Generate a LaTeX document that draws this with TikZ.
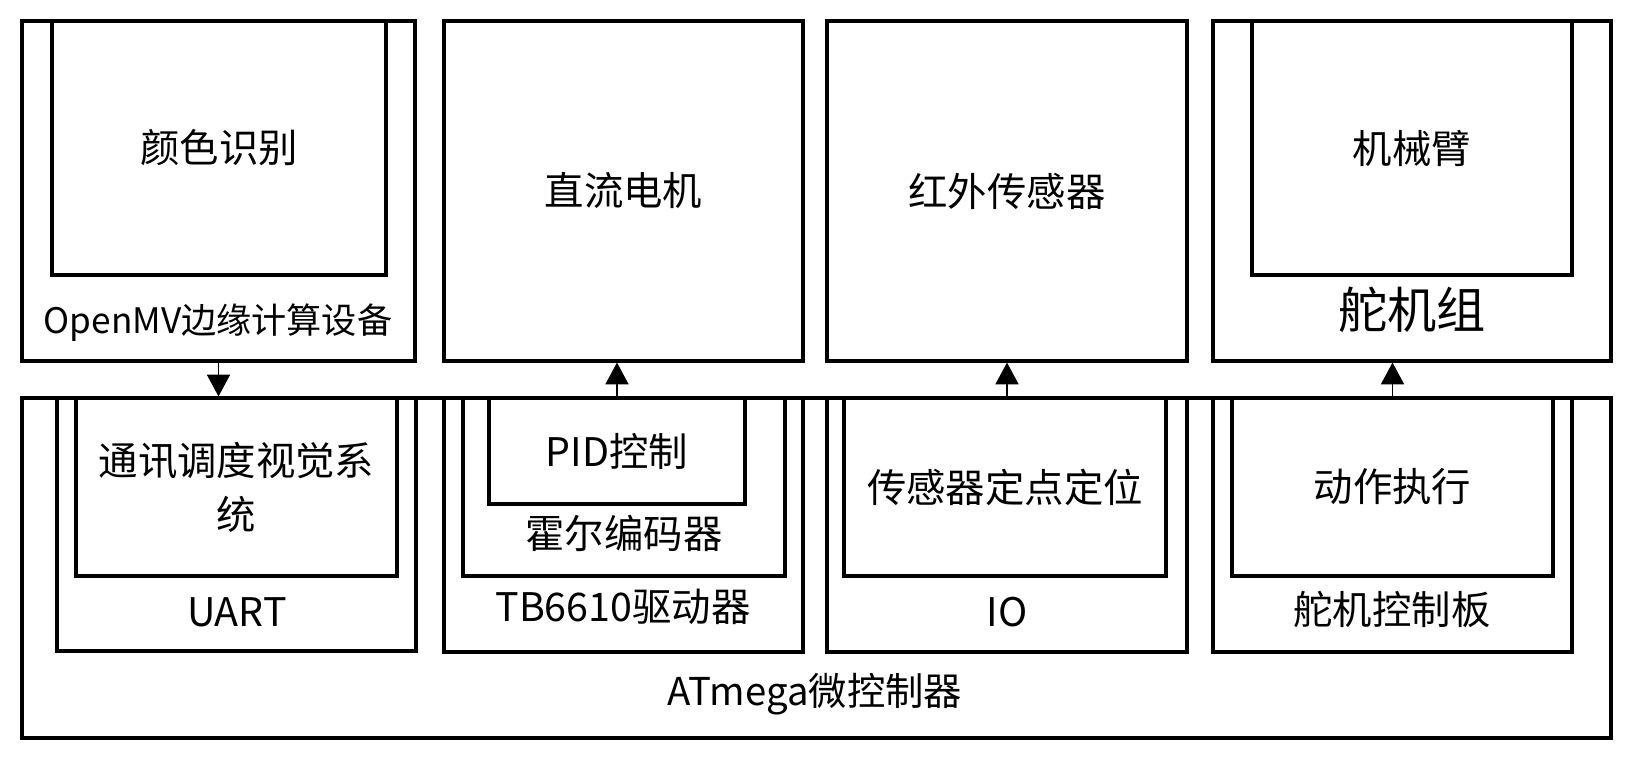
\documentclass[tikz,border=0pt]{standalone}
\usepackage{fontspec}
\setmainfont{Noto Sans CJK SC}
\usetikzlibrary{fit,arrows.meta}

\tikzset{
    box/.style={draw,line width=0.9pt,inner sep=0pt},
    lbl/.style={inner sep=0pt,font=\textfontsize,align=center},
    arr/.style={line width=0.3pt,-{Triangle[length=6.2pt,width=6.6pt]}}
}
\newcommand{\textfontsize}{\fontsize{11.2pt}{15.4pt}\selectfont}
\newcommand{\smallfontsize}{\fontsize{10pt}{12pt}\selectfont}
\newcommand{\bigfontsize}{\fontsize{14pt}{16pt}\selectfont}

\begin{document}
\begin{tikzpicture}[x=0.01cm,y=-0.01cm]
    \useasboundingbox (0,0) rectangle (1632,760);
    % upper row: devices
    \node[box,fit={(22,21)(415,361)}] (openmv) {};
    \node[box,fit={(52,21)(386,275)}] (color) {};
    \node[lbl] (colortext) at (color.center) {颜色识别};
    \node[lbl,font=\smallfontsize] (openmvtext) at (218,323) {OpenMV边缘计算设备};
    \node[box,fit={(444,21)(803,361)}] (motor) {};
    \node[lbl] (motortext) at (motor.center) {直流电机};
    \node[box,fit={(827,21)(1187,361)}] (infrared) {};
    \node[lbl] (infraredtext) at (infrared.center) {红外传感器};
    \node[box,fit={(1213,21)(1611,361)}] (servos) {};
    \node[box,fit={(1252,21)(1572,275)}] (arm) {};
    \node[lbl] (armtext) at (arm.center) {机械臂};
    \node[lbl,font=\bigfontsize] (servostext) at (1412,310) {舵机组};
    % lower row: the microcontroller
    \node[box,fit={(22,398)(1611,738)}] (atmega) {};
    \node[lbl,font=\fontsize{10.9pt}{13pt}\selectfont] (atmegatext) at (815,694) {ATmega微控制器};
    \node[box,fit={(57,398)(416,651)}] (uart) {};
    \node[box,fit={(76,398)(397,576)}] (vision) {};
    \node[lbl] (visiontext) at (vision.center) {通讯调度视觉系\\统};
    \node[lbl] (uarttext) at (237,612) {UART};
    \node[box,fit={(444,398)(803,652)}] (driver) {};
    \node[box,fit={(463,398)(785,576)}] (hall) {};
    \node[box,fit={(489,398)(745,504)}] (pid) {};
    \node[lbl] (pidtext) at (pid.center) {PID控制};
    \node[lbl] (halltext) at (624,533) {霍尔编码器};
    \node[lbl] (drivertext) at (623,607) {TB6610驱动器};
    \node[box,fit={(827,398)(1187,652)}] (io) {};
    \node[box,fit={(844,398)(1166,576)}] (locate) {};
    \node[lbl] (locatetext) at (locate.center) {传感器定点定位};
    \node[lbl] (iotext) at (1007,612) {IO};
    \node[box,fit={(1213,398)(1572,652)}] (board) {};
    \node[box,fit={(1232,398)(1553,576)}] (action) {};
    \node[lbl] (actiontext) at (action.center) {动作执行};
    \node[lbl] (boardtext) at (1392,610) {舵机控制板};
    % links
    \draw[arr] (openmv.south) -- (openmv.south |- atmega.north);
    \draw[arr] (pid.north) -- (pid.north |- motor.south);
    \draw[arr] (io.north) -- (io.north |- infrared.south);
    \draw[arr] (board.north) -- (board.north |- servos.south);
\end{tikzpicture}
\end{document}
